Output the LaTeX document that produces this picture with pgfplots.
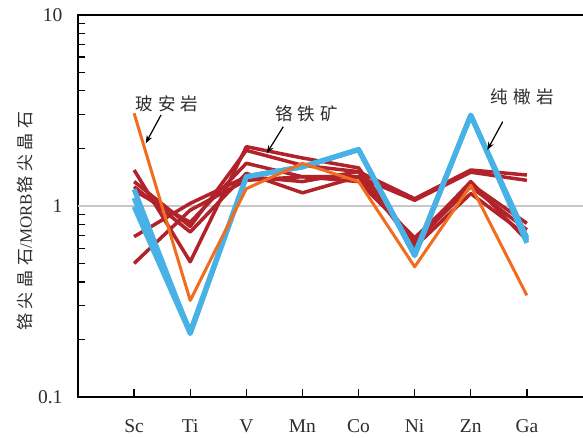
\documentclass[border=0pt]{standalone}
\usepackage{fontspec}
\setmainfont{Liberation Serif}
\newfontfamily\cjk{Noto Sans CJK SC}[LetterSpace=30]
\newfontfamily\cjklab{Noto Sans CJK SC}[LetterSpace=28]
\usepackage{pgfplots}
\pgfplotsset{compat=1.18}
\usetikzlibrary{arrows.meta}

\definecolor{chromred}{RGB}{178,34,42}
\definecolor{duniteblue}{RGB}{72,178,230}
\definecolor{boniorange}{RGB}{242,108,32}
\definecolor{txt}{RGB}{45,45,45}

\begin{document}
\begin{tikzpicture}
\begin{axis}[
  scale only axis, width=510.6pt, height=382.3pt,
  xmin=-1, xmax=8.1,
  ymode=log, ymin=0.1, ymax=10,
  axis line style={line width=1.6pt, black},
  xtick={0,...,7},
  xticklabels={Sc,Ti,V,Mn,Co,Ni,Zn,Ga},
  ytick={0.1,1,10},
  yticklabels={0.1,1,10},
  minor ytick={0.2,0.3,0.4,0.5,0.6,0.7,0.8,0.9,2,3,4,5,6,7,8,9},
  tick pos=left,
  tick align=inside,
  major tick length=8pt, minor tick length=7pt,
  every tick/.append style={black, line width=1.3pt},
  every minor tick/.append style={black, line width=1.3pt},
  tick label style={font=\fontsize{19.5}{21}\selectfont, text=txt},
  xticklabel style={yshift=-19pt},
  yticklabel style={xshift=-12pt},
  clip=false,
]
% reference level
\addplot[black!22, line width=1.3pt, forget plot] coordinates {(-1,1) (8.1,1)};
% chromite samples
\addplot[chromred, line width=3.5pt, line join=round] coordinates {(0,1.54) (1,0.51) (2,2.04) (3,1.78) (4,1.58) (5,0.64) (6,1.26) (7,0.75)};
\addplot[chromred, line width=3.5pt, line join=round] coordinates {(0,1.34) (1,0.78) (2,1.95) (3,1.63) (4,1.51) (5,0.61) (6,1.16) (7,0.70)};
\addplot[chromred, line width=3.5pt, line join=round] coordinates {(0,1.26) (1,0.73) (2,1.48) (3,1.17) (4,1.42) (5,0.66) (6,1.34) (7,0.66)};
\addplot[chromred, line width=3.5pt, line join=round] coordinates {(0,1.20) (1,0.82) (2,1.67) (3,1.42) (4,1.34) (5,0.68) (6,1.30) (7,0.81)};
\addplot[chromred, line width=3.5pt, line join=round] coordinates {(0,0.69) (1,1.03) (2,1.42) (3,1.34) (4,1.51) (5,1.09) (6,1.54) (7,1.45)};
\addplot[chromred, line width=3.5pt, line join=round] coordinates {(0,0.50) (1,0.95) (2,1.36) (3,1.42) (4,1.42) (5,1.07) (6,1.50) (7,1.36)};
% dunite
\addplot[duniteblue, line width=5pt, line join=round] coordinates {(0,1.22) (1,0.215) (2,1.42) (3,1.60) (4,1.97) (5,0.55) (6,2.98) (7,0.66)};
\addplot[duniteblue, line width=5pt, line join=round] coordinates {(0,1.10) (1,0.22) (2,1.42) (3,1.60) (4,1.97) (5,0.56) (6,2.98) (7,0.64)};
\addplot[duniteblue, line width=5pt, line join=round] coordinates {(0,0.99) (1,0.215) (2,1.42) (3,1.60) (4,1.97) (5,0.55) (6,2.98) (7,0.68)};
% boninite
\addplot[boniorange, line width=3pt, line join=round] coordinates {(0,3.05) (1,0.32) (2,1.23) (3,1.67) (4,1.34) (5,0.48) (6,1.28) (7,0.34)};

% inward tick marks along the bottom and left frame
\pgfplotsinvokeforeach{0,...,7}{
  \draw[black, line width=1.3pt] (axis cs:#1,0.1) -- ([yshift=7pt]axis cs:#1,0.1);
}
\pgfplotsinvokeforeach{0.2,0.3,0.4,0.5,0.6,0.7,0.8,0.9,2,3,4,5,6,7,8,9}{
  \draw[black, line width=1.3pt] (axis cs:-1,#1) -- ([xshift=7pt]axis cs:-1,#1);
}

% annotations
\node[font=\cjk\fontsize{17.5}{19}\selectfont, text=txt] at (axis description cs:0.1743,0.768) {玻安岩};
\draw[line width=1.2pt, -{Stealth[length=8pt,width=6pt]}] (axis description cs:0.1626,0.7377) -- (axis description cs:0.1326,0.6636);
\node[font=\cjk\fontsize{17.5}{19}\selectfont, text=txt] at (axis description cs:0.4480,0.740) {铬铁矿};
\draw[line width=1.2pt, -{Stealth[length=8pt,width=6pt]}] (axis description cs:0.4020,0.7070) -- (axis description cs:0.3696,0.6375);
\node[font=\cjk\fontsize{17.5}{19}\selectfont, text=txt] at (axis description cs:0.8704,0.785) {纯橄岩};
\draw[line width=1.2pt, -{Stealth[length=8pt,width=6pt]}] (axis description cs:0.8318,0.7201) -- (axis description cs:0.8016,0.6461);

% y axis title
\node[rotate=90, text=txt, font=\fontsize{17}{19}\selectfont] at ([xshift=-53pt]axis description cs:0,0.46) {{\cjklab 铬尖晶石}/MORB{\cjklab 铬尖晶石}};
\end{axis}
\pgfresetboundingbox
\path[use as bounding box] (-78pt,-40pt) rectangle (505pt,397pt);
\end{tikzpicture}
\end{document}
